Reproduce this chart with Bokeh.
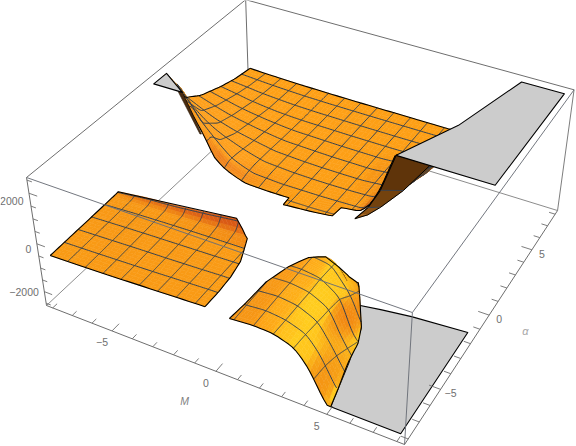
import numpy as np
from bokeh.plotting import figure
from bokeh.models import ColumnDataSource
from bokeh.core.properties import value
from bokeh.embed import file_html
from bokeh.resources import INLINE

BOX_XY = 8.32
BOX_Z = 2600.0
CLIP = 2500.0

# mesh lines
mesh_M = [-8 + 0.875 * k for k in range(1, 16)]
mesh_a = [-8 + 0.95 * k for k in range(1, 17)]

# rear sheet: z(M, alpha)
rear_M = [-8, -7, -6.5, -6, -5.5, -5, -4.5, -4, -3.4, -2, -1, 0, 1, 2, 2.5, 3, 3.6, 4, 5, 6]
rear_a = [-0.8, -0.1, 0.3, 1, 2.25, 3.55, 5.3, 6.5, 8]
rear_z = [
    [3600, 3000, 2500, 1700, 1050, 250, -50, -220, -370, -360, -300, -300, -260, -100, 300, 1200, 2900, 3500, 3500, 3500],
    [3600, 3000, 2500, 1700, 1050, 250, -50, -220, -370, -360, -330, -310, -280, -200, 300, 1200, 2900, 3500, 3500, 3500],
    [3500, 2800, 2200, 1500, 1000, 500, 80, -120, -300, -350, -330, -320, -290, -250, 200, 1000, 2500, 3500, 3500, 3500],
    [2500, 1500, 1050, 700, 450, 250, 60, -90, -240, -320, -330, -325, -300, -280, 20, 250, 1200, 2500, 3500, 3500],
    [970, 560, 380, 250, 120, 30, -60, -140, -240, -300, -320, -320, -310, -240, -130, -50, 430, 1400, 3000, 3500],
    [494, 250, 140, 50, -20, -90, -150, -210, -260, -290, -310, -310, -310, -220, -220, -150, 120, 750, 2000, 3500],
    [130, 0, -80, -130, -180, -220, -245, -265, -280, -290, -300, -300, -300, -290, -270, -240, -100, 200, 1300, 3500],
    [-60, -130, -170, -200, -220, -240, -260, -270, -280, -290, -295, -295, -295, -290, -285, -270, -170, 90, 1000, 3500],
    [-200, -230, -240, -250, -260, -270, -275, -280, -285, -290, -290, -290, -290, -290, -290, -285, -200, 50, 800, 3500],
]
rear_front_M = [-8, -6.54, -5, -1.2, -1.15, 1.1, 1.15, 2, 3, 3.6, 5.3]
rear_front_a = [0.0, 0.02, -0.1, -0.2, -0.78, -0.55, 0.18, 0.3, 0.15, 0.2, 0.2]

# left sheet
left_M = [-8, -6.5, -5, -3.5, -2, -1, 0]
left_a = [-8, -7, -6, -5, -4.2, -3.45, -3.2]
left_z = [
    [-560, -520, -470, -410, -350, -310, -280],
    [-540, -500, -450, -400, -340, -300, -280],
    [-520, -470, -420, -380, -330, -290, -270],
    [-500, -440, -390, -350, -310, -280, -260],
    [-480, -410, -360, -320, -290, -275, -250],
    [-465, -390, -330, -260, -180, -130, -80],
    [-450, -280, -180, -30, 146, 200, 250],
]
left_edge_a = [-8, -7, -6, -5, -4.2, -3.7, -3.4, -3.2]
left_edge_M = [-0.55, -0.55, -0.6, -0.75, -1.04, -1.2, -1.6, -2.0]

# front-right sheet
right_M = [0.5, 1.6, 2.5, 3.4, 4, 4.8, 5.5]
right_a = [-8, -7.05, -6.1, -5.15, -4.2, -3.25, -2.2]
right_z = [
    [-410, -333, -364, -624, -1208, -2500, -3000],
    [-400, -310, -400, -670, -1279, -2550, -3000],
    [-390, -302, -398, -760, -1518, -2700, -3000],
    [-370, -312, -420, -818, -1870, -2900, -3000],
    [-350, -300, -400, -913, -2300, -3000, -3000],
    [-350, -320, -427, -1400, -2600, -3000, -3000],
    [-350, -350, -500, -1800, -2900, -3000, -3000],
]
right_edge_a = [-8, -7, -5.5, -4.3, -3.4, -2.92, -2.9, -2.6, -2.3, -2.2]
right_lo_M = [0.55, 0.65, 0.73, 1.07, 1.5, 2.04, 2.64, 3.0, 3.18, 3.22]
right_hi_M = [5.0, 4.8, 4.5, 4.3, 4.0, 3.7, 3.69, 3.5, 3.3, 3.22]

# clipped plates
plate_low_M = [3.22, 4.2, 5.53, 8, 8, 5.0, 4.5, 4.0, 3.45]
plate_low_a = [-2.2, -2.0, -1.78, -1.56, -8, -8, -5.5, -3.4, -2.5]
plate_high_M = [3.6, 7.93, 8, 6.0, 4.94]
plate_high_a = [0.2, 0.23, 8, 8, 3.46]
plate_tip_M = [-8, -8, -6.54]
plate_tip_a = [0, 1, 0.02]

# steep wall
wall_left_M = [3.6, 3.0, 2.5, 2.2, 2.0]
wall_left_a = [0.2, 0.1, 0.0, -0.1, -0.2]
wall_left_z = [2500, 1000, 200, -100, -300]
wall_right_M = [5.1, 4.0, 3.0, 2.5, 2.0]
wall_right_a = [0.2, 0.2, 0.2, 0.0, -0.2]
wall_right_z = [2500, 1220, 260, -100, -300]
strip_M = [-6.75, -6.54, -5.6, -5.66]
strip_a = [0.0, 0.02, -0.1, -0.13]
strip_z = [2500, 2500, 1100, 1100]

tick_M = [-5, 0, 5]
tick_a = [-5, 0, 5]
tick_z = [-2000, 0, 2000]
z_label_dy = [0.5, 5, 8]


def proj(M, a, z):
    M, a, z = np.asarray(M, float), np.asarray(a, float), np.asarray(z, float)
    u = (M + BOX_XY) / (2 * BOX_XY)
    v = (a + BOX_XY) / (2 * BOX_XY)
    t = (z + BOX_Z) / (2 * BOX_Z)
    w = 1 - 0.1016 * u + 0.2128 * v - 0.07 * t
    return (317 * u + 256 * v - 21.8 * t + 46) / w, (93.9 * u - 165.5 * v - 140.4 * t + 305) / w, w


def field(Mn, an, tab, passes=2):
    tab = np.array(tab, float)
    fm = np.arange(min(Mn), max(Mn) + 0.001, 0.1)
    fa = np.arange(min(an), max(an) + 0.001, 0.1)
    rows = np.array([np.interp(fm, Mn, r) for r in tab])
    g = np.array([np.interp(fa, an, rows[:, j]) for j in range(len(fm))]).T
    for _ in range(passes):
        h = g.copy()
        h[1:-1, :] = (g[:-2, :] + 2 * g[1:-1, :] + g[2:, :]) / 4
        g = h.copy()
        h[:, 1:-1] = (g[:, :-2] + 2 * g[:, 1:-1] + g[:, 2:]) / 4
        g = h

    def f(M, a):
        M, a = np.asarray(M, float), np.asarray(a, float)
        i = np.clip((M - fm[0]) / 0.1, 0, len(fm) - 1.001)
        j = np.clip((a - fa[0]) / 0.1, 0, len(fa) - 1.001)
        i0, j0 = i.astype(int), j.astype(int)
        di, dj = i - i0, j - j0
        return (g[j0, i0] * (1 - di) * (1 - dj) + g[j0, i0 + 1] * di * (1 - dj)
                + g[j0 + 1, i0] * (1 - di) * dj + g[j0 + 1, i0 + 1] * di * dj)
    return f


ramp_n = [-1, -0.6, 0, 0.2, 0.45, 0.8, 0.93, 1]
ramp_r = [150, 215, 253, 255, 255, 255, 242, 215]
ramp_g = [80, 110, 160, 180, 205, 198, 135, 100]
ramp_b = [15, 20, 22, 26, 30, 28, 18, 15]
rear_ramp_g = [80, 110, 160, 160, 160, 158, 135, 100]
rear_ramp_r = [150, 215, 254, 254, 254, 252, 245, 215]


def hexc(r, g, b):
    return "#%02x%02x%02x" % (int(r), int(g), int(b))


def quads(M2, a2, z2, rr=ramp_r, rg=ramp_g):
    zc = np.clip(z2, -CLIP, CLIP)
    X, Y, W = proj(M2, a2, zc)
    U = (M2 + BOX_XY) / (2 * BOX_XY)
    V = (a2 + BOX_XY) / (2 * BOX_XY)
    T = 0.4 * (zc + BOX_Z) / (2 * BOX_Z)
    out = []
    for i in range(M2.shape[0] - 1):
        for j in range(M2.shape[1] - 1):
            idx = [(i, j), (i, j + 1), (i + 1, j + 1), (i + 1, j)]
            zz = [zc[p] for p in idx]
            if all(q >= CLIP for q in zz) or all(q <= -CLIP for q in zz):
                continue
            d1 = np.array([U[idx[2]] - U[idx[0]], V[idx[2]] - V[idx[0]], T[idx[2]] - T[idx[0]]])
            d2 = np.array([U[idx[3]] - U[idx[1]], V[idx[3]] - V[idx[1]], T[idx[3]] - T[idx[1]]])
            n = np.cross(d1, d2)
            nn = np.linalg.norm(n)
            if nn < 1e-12:
                continue
            n = n / nn
            if n[2] < 0:
                n = -n
            sx = (X[idx[2]] - X[idx[0]]) * (Y[idx[3]] - Y[idx[1]]) - (X[idx[3]] - X[idx[1]]) * (Y[idx[2]] - Y[idx[0]])
            su = d1[0] * d2[1] - d2[0] * d1[1]
            if sx * su > 0:
                col = hexc(125, 72, 18)
            else:
                r = np.interp(n[0], ramp_n, rr)
                g = np.interp(n[0], ramp_n, rg)
                b = np.interp(n[0], ramp_n, ramp_b)
                k = np.clip(-n[1], 0, 1)
                col = hexc(r * (1 - 0.15 * k), g * (1 - 0.5 * k), b)
            depth = np.mean([W[p] for p in idx])
            out.append((depth, [X[p] for p in idx], [Y[p] for p in idx], col))
    out.sort(key=lambda q: -q[0])
    return out


def draw_quads(p, q):
    src = ColumnDataSource(dict(xs=[c[1] for c in q], ys=[c[2] for c in q], col=[c[3] for c in q]))
    p.patches("xs", "ys", source=src, fill_color="col", line_color="col", line_width=0.5)


def split_line(M, a, z):
    M, a, z = np.asarray(M, float), np.asarray(a, float), np.asarray(z, float)
    ok = (z < CLIP) & (z > -CLIP)
    x, y, _ = proj(M, a, z)
    xs, ys = [], []
    cx, cy = [], []
    for k in range(len(x)):
        if ok[k]:
            cx.append(float(x[k]))
            cy.append(float(y[k]))
        else:
            if len(cx) > 1:
                xs.append(cx)
                ys.append(cy)
            cx, cy = [], []
    if len(cx) > 1:
        xs.append(cx)
        ys.append(cy)
    return xs, ys


MESH = "#34404f"
p = figure(width=576, height=446, x_range=(0, 576), y_range=(446, 0), x_axis_type=None, y_axis_type=None,
           toolbar_location=None, output_backend="svg", min_border=0, outline_line_color=None)
p.background_fill_color = "white"
p.border_fill_color = "white"

BOX = "#6e6e6e"
s = BOX_XY
def edge(a0, a1, lw=1.0, col=BOX, alpha=1.0):
    x, y, _ = proj([a0[0] * s, a1[0] * s], [a0[1] * s, a1[1] * s], [a0[2] * BOX_Z, a1[2] * BOX_Z])
    p.line(list(x), list(y), line_color=col, line_width=lw, line_alpha=alpha)

# rear box edges
edge((-1, -1, 1), (-1, 1, 1))
edge((-1, 1, 1), (1, 1, 1))
edge((-1, 1, 1), (-1, 1, -1))
edge((-1, -1, -1), (-1, 1, -1), 0.8)
edge((-1, 1, -1), (1, 1, -1), 0.8)
edge((1, 1, 1), (1, 1, -1), 0.9)

def grey(Ms, As, z):
    x, y, _ = proj(Ms, As, np.full(len(Ms), z))
    p.patch(list(x), list(y), fill_color="#cccccc", line_color="black", line_width=1.1, line_join="round")

grey(plate_low_M, plate_low_a, -CLIP)

# rear sheet
fr = field(rear_M, rear_a, rear_z)
Mcols = np.unique(np.concatenate([np.linspace(-8, 5.3, 62), rear_front_M]))
alo = np.interp(Mcols, rear_front_M, rear_front_a)
sp = np.linspace(0, 1, 34) ** 1.7
M2 = np.array([Mcols for _ in sp])
a2 = np.array([alo + (8 - alo) * q for q in sp])
z2 = fr(M2, a2)
draw_quads(p, quads(M2, a2, z2, rear_ramp_r, rear_ramp_g))
mx, my = [], []
for mk in mesh_M:
    if mk < 5.3:
        lo = np.interp(mk, rear_front_M, rear_front_a)
        aa = np.linspace(lo, 8, 90)
        xx, yy = split_line(np.full(90, mk), aa, fr(np.full(90, mk), aa))
        mx += xx
        my += yy
for ak in mesh_a:
    mm = Mcols[np.interp(Mcols, rear_front_M, rear_front_a) <= ak]
    if len(mm) > 1:
        mmf = np.linspace(mm[0], mm[-1], 160)
        xx, yy = split_line(mmf, np.full(160, ak), fr(mmf, np.full(160, ak)))
        mx += xx
        my += yy
p.multi_line(mx, my, line_color=MESH, line_width=1.0)
# outline rear sheet
ox, oy = [], []
for Ms, As in [(Mcols, alo), (Mcols, np.full(len(Mcols), 8.0)), (np.full(60, -8.0), np.linspace(0, 8, 60))]:
    xx, yy = split_line(Ms, As, fr(Ms, As))
    ox += xx
    oy += yy
p.multi_line(ox, oy, line_color="black", line_width=1.1)

# wall
n_wall = len(wall_left_M)
wx, wy, wc = [], [], []
wall_cols = [(95, 52, 10), (115, 66, 14), (140, 82, 20), (165, 98, 26)]
for i in range(n_wall - 1):
    xa, ya, _ = proj(wall_left_M[i:i + 2], wall_left_a[i:i + 2], wall_left_z[i:i + 2])
    xb, yb, _ = proj(wall_right_M[i:i + 2], wall_right_a[i:i + 2], wall_right_z[i:i + 2])
    wx.append([xa[0], xb[0], xb[1], xa[1]])
    wy.append([ya[0], yb[0], yb[1], ya[1]])
    wc.append(hexc(*wall_cols[i]))
p.patches(wx, wy, fill_color=wc, line_color=wc, line_width=0.5)
xa, ya, _ = proj(wall_left_M, wall_left_a, wall_left_z)
xb, yb, _ = proj(wall_right_M, wall_right_a, wall_right_z)
p.line(list(xa), list(ya), line_color="black", line_width=1.1)
p.line(list(xb), list(yb), line_color="black", line_width=1.0)
for i in (1, 2):
    p.line([xa[i], xb[i]], [ya[i], yb[i]], line_color=MESH, line_width=0.9)
x, y, _ = proj(strip_M, strip_a, strip_z)
p.patch(list(x), list(y), fill_color="#4a2c10", line_color="#2a1a08", line_width=0.6)

grey(plate_high_M, plate_high_a, CLIP)
grey(plate_tip_M, plate_tip_a, CLIP)


def side_sheet(fz, ea, lo, hi, nrows=26, ncols=30):
    rows = np.unique(np.concatenate([np.linspace(min(ea), max(ea), nrows), ea]))
    ml = np.interp(rows, ea, lo)
    mh = np.interp(rows, ea, hi)
    q = np.linspace(0, 1, ncols)
    M2 = np.array([ml + (mh - ml) * c for c in q]).T
    a2 = np.array([rows for _ in q]).T
    z2 = fz(M2, a2)
    draw_quads(p, quads(M2, a2, z2))
    mx, my = [], []
    for mk in mesh_M:
        aa = np.linspace(min(ea), max(ea), 200)
        aa = aa[(np.interp(aa, ea, lo) <= mk) & (np.interp(aa, ea, hi) >= mk)]
        if len(aa) > 1:
            mm = np.full(len(aa), mk)
            xx, yy = split_line(mm, aa, fz(mm, aa))
            mx += xx
            my += yy
    for ak in mesh_a:
        if min(ea) < ak < max(ea):
            mm = np.linspace(np.interp(ak, ea, lo), np.interp(ak, ea, hi), 80)
            aa = np.full(80, ak)
            xx, yy = split_line(mm, aa, fz(mm, aa))
            mx += xx
            my += yy
    p.multi_line(mx, my, line_color=MESH, line_width=1.0)
    pm = np.concatenate([ml, mh[::-1]])
    pa = np.concatenate([rows, rows[::-1]])
    x, y, _ = proj(pm, pa, np.clip(fz(pm, pa), -CLIP, CLIP))
    p.line(list(x), list(y), line_color="black", line_width=1.1)
    mq = np.array([ml[0] + (mh[0] - ml[0]) * c for c in q])
    aq = np.full(len(q), rows[0])
    x, y, _ = proj(mq, aq, np.clip(fz(mq, aq), -CLIP, CLIP))
    p.line(list(x), list(y), line_color="black", line_width=1.1)


side_sheet(field(left_M, left_a, left_z, passes=1), left_edge_a, [-8.0] * len(left_edge_a), left_edge_M)
side_sheet(field(right_M, right_a, right_z, passes=5), right_edge_a, right_lo_M, right_hi_M)

# front box edges
FRONT = "#6b7078"
edge((-1, -1, 1), (1, -1, 1), 1.0, FRONT, 0.95)
edge((1, -1, 1), (1, 1, 1), 1.0, FRONT, 0.95)
edge((1, -1, 1), (1, -1, -1), 1.0, FRONT, 0.95)
edge((-1, -1, 1), (-1, -1, -1), 1.0, BOX)
edge((-1, -1, -1), (1, -1, -1), 1.0, BOX)
edge((1, -1, -1), (1, 1, -1), 1.0, BOX)

# ticks
tx, ty = [], []
for k in range(-8, 9):
    ln = 0.5 if k % 5 == 0 else 0.3
    x, y, _ = proj([k, k], [-s, -s + ln], [-BOX_Z, -BOX_Z])
    tx.append(list(x)); ty.append(list(y))
    x, y, _ = proj([s, s - ln], [k, k], [-BOX_Z, -BOX_Z])
    tx.append(list(x)); ty.append(list(y))
for k in range(-5, 6):
    ln = 0.4 if k % 4 == 0 else 0.24
    x, y, _ = proj([-s, -s + ln], [-s, -s], [k * 500, k * 500])
    tx.append(list(x)); ty.append(list(y))
p.multi_line(tx, ty, line_color=BOX, line_width=0.9)

LAB = "#707070"
def label(x, y, s_, align="center", col=LAB, size="10.5px", style="normal"):
    p.text([x], [y], text=[s_], text_font=value("Liberation Sans"), text_font_size=size, text_color=col,
           text_align=align, text_baseline="middle", text_font_style=style)

def fmt(k):
    return ("\u2212%d" % -k) if k < 0 else str(k)

for k in tick_M:
    x, y, _ = proj(k, -s, -BOX_Z)
    label(float(x) - 10, float(y) + 11.5, fmt(k))
for k in tick_a:
    x, y, _ = proj(s, k, -BOX_Z)
    label(float(x) + 10, float(y) + 4, fmt(k))
for k, dy in zip(tick_z, z_label_dy):
    x, y, _ = proj(-s, -s, k)
    label(float(x) - 5.5, float(y) + dy, fmt(k), align="right")
label(184, 400, "M", col="#808080", size="10.5px", style="italic")
label(525, 330, "\u03b1", col="#a8a8a8", size="11px", style="italic")

open("out.html", "w").write(file_html(p, INLINE))
